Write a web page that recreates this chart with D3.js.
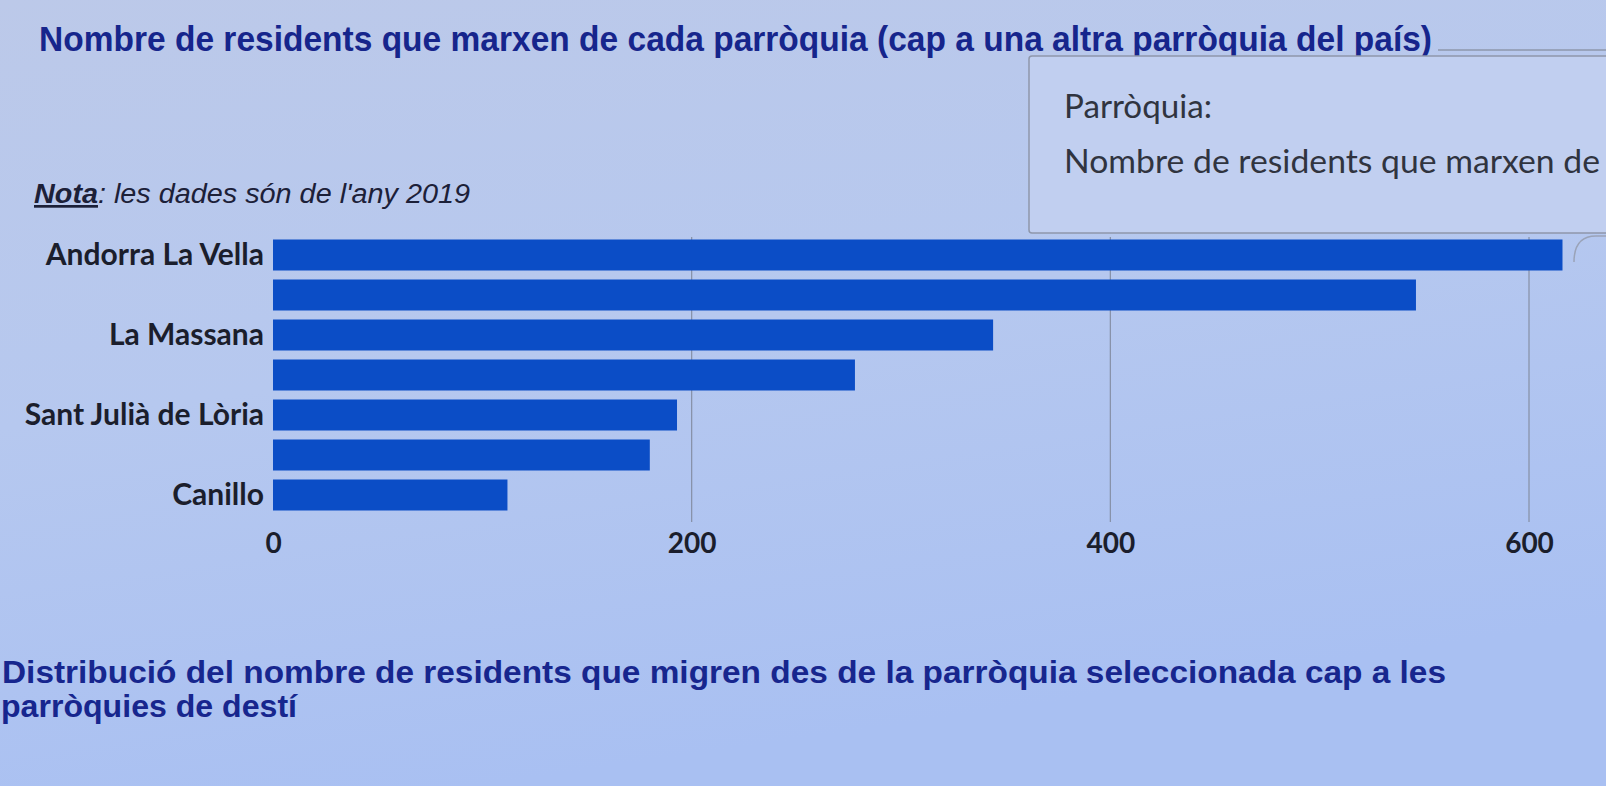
<!DOCTYPE html>
<html>
<head>
<meta charset="utf-8">
<script src="https://cdn.jsdelivr.net/npm/d3@7/dist/d3.min.js"></script>
<style>
  html, body { margin: 0; padding: 0; overflow: hidden; background: #b6c8ef; }
  svg { display: block; }
</style>
</head>
<body>
<svg id="chart" width="1606" height="786"></svg>
<script>
// ---- data ----
const categories = ["Andorra La Vella", "Escaldes-Engordany", "La Massana", "Encamp", "Sant Julià de Lòria", "Ordino", "Canillo"];
const values = [616, 546, 344, 278, 193, 180, 112];
const shownLabels = ["Andorra La Vella", "La Massana", "Sant Julià de Lòria", "Canillo"];
const xTicks = [0, 200, 400, 600];
const titleText = "Nombre de residents que marxen de cada parròquia (cap a una altra parròquia del país)";
const noteLead = "Nota";
const noteRest = ": les dades són de l'any 2019";
const tooltipLines = ["Parròquia:", "Nombre de residents que marxen de"];
const subtitleLines = ["Distribució del nombre de residents que migren des de la parròquia seleccionada cap a les", "parròquies de destí"];

const data = categories.map((c, i) => ({ name: c, value: values[i] }));

const svg = d3.select("#chart");
const W = 1606, H = 786;

// background gradient (screen photo look)
const defs = svg.append("defs");
const bg = defs.append("linearGradient").attr("id", "bg").attr("x1", 0).attr("y1", 0).attr("x2", 0.3).attr("y2", 1);
bg.append("stop").attr("offset", "0%").attr("stop-color", "#bcc9e9");
bg.append("stop").attr("offset", "50%").attr("stop-color", "#b6c8ef");
bg.append("stop").attr("offset", "100%").attr("stop-color", "#a9c0f2");
svg.append("rect").attr("width", W).attr("height", H).attr("fill", "url(#bg)");

// title
svg.append("text")
  .attr("x", 39).attr("y", 51)
  .attr("font-family", "Liberation Sans, Arial, sans-serif")
  .attr("font-weight", "bold").attr("font-size", 35)
  .attr("fill", "#16258c")
  .attr("textLength", 1393).attr("lengthAdjust", "spacingAndGlyphs")
  .text(titleText);

// line to the right of title
svg.append("line").attr("x1", 1438).attr("x2", W).attr("y1", 50).attr("y2", 50)
  .attr("stroke", "#8e97ab").attr("stroke-width", 1.5);

// tooltip box (cut at right edge)
svg.append("rect").attr("x", 1029).attr("y", 56).attr("width", 640).attr("height", 177)
  .attr("rx", 3).attr("fill", "#c1cff0").attr("stroke", "#8e97ab").attr("stroke-width", 1.5);
svg.append("text").attr("x", 1064).attr("y", 118)
  .attr("font-family", "Lato, 'Open Sans', sans-serif").attr("font-size", 32)
  .attr("fill", "#30343f")
  .attr("textLength", 148).attr("lengthAdjust", "spacingAndGlyphs")
  .text(tooltipLines[0]);
svg.append("text").attr("x", 1064).attr("y", 173)
  .attr("font-family", "Lato, 'Open Sans', sans-serif").attr("font-size", 32)
  .attr("fill", "#30343f")
  .attr("textLength", 536).attr("lengthAdjust", "spacingAndGlyphs")
  .text(tooltipLines[1]);

// corner of another panel at right
svg.append("path").attr("d", "M1574,262 Q1574,236 1596,236 L1606,236")
  .attr("fill", "none").attr("stroke", "#9aa3b8").attr("stroke-width", 1.5);

// note
const note = svg.append("text").attr("x", 34).attr("y", 203)
  .attr("font-family", "Liberation Sans, Arial, sans-serif").attr("font-style", "italic")
  .attr("font-size", 27).attr("fill", "#1c2038")
  .attr("textLength", 436).attr("lengthAdjust", "spacingAndGlyphs");
note.append("tspan").attr("text-decoration", "underline").attr("font-weight", "bold").text(noteLead);
note.append("tspan").text(noteRest);

// scales
const x = d3.scaleLinear().domain([0, 600]).range([273, 1529]);
const y = d3.scaleBand().domain(categories).range([235, 515]).paddingInner(0.225).paddingOuter(0.1125);

// gridlines
svg.append("g").selectAll("line").data(xTicks.filter(t => t > 0)).join("line")
  .attr("x1", d => x(d)).attr("x2", d => x(d))
  .attr("y1", 237).attr("y2", 522)
  .attr("stroke", "#858fa5").attr("stroke-width", 1.2);

// bars
svg.append("g").selectAll("rect").data(data).join("rect")
  .attr("x", x(0)).attr("y", d => y(d.name))
  .attr("width", d => x(d.value) - x(0))
  .attr("height", y.bandwidth())
  .attr("fill", "#0b4dc6");

// y axis labels
const yAxis = d3.axisLeft(y).tickSize(0).tickPadding(9)
  .tickFormat(d => shownLabels.includes(d) ? d : "");
const gy = svg.append("g").attr("transform", `translate(${x(0)},0)`).call(yAxis);
gy.select(".domain").remove();
gy.selectAll("text")
  .attr("font-family", "Lato, 'Open Sans', sans-serif").attr("font-weight", "bold")
  .attr("font-size", 30).attr("fill", "#1b1e2c");

// x axis labels
const xAxis = d3.axisBottom(x).tickValues(xTicks).tickSize(0).tickPadding(11).tickFormat(d3.format("d"));
const gx = svg.append("g").attr("transform", "translate(0,522)").call(xAxis);
gx.select(".domain").remove();
gx.selectAll("text")
  .attr("font-family", "Lato, 'Open Sans', sans-serif").attr("font-weight", "bold")
  .attr("font-size", 28).attr("fill", "#1b1e2c");

// subtitle (second chart heading)
svg.append("text").attr("x", 2).attr("y", 683)
  .attr("font-family", "Liberation Sans, Arial, sans-serif").attr("font-weight", "bold")
  .attr("font-size", 31).attr("fill", "#17268e")
  .attr("textLength", 1444).attr("lengthAdjust", "spacingAndGlyphs")
  .text(subtitleLines[0]);
svg.append("text").attr("x", 1).attr("y", 717)
  .attr("font-family", "Liberation Sans, Arial, sans-serif").attr("font-weight", "bold")
  .attr("font-size", 31).attr("fill", "#17268e")
  .attr("textLength", 296).attr("lengthAdjust", "spacingAndGlyphs")
  .text(subtitleLines[1]);
</script>
</body>
</html>
